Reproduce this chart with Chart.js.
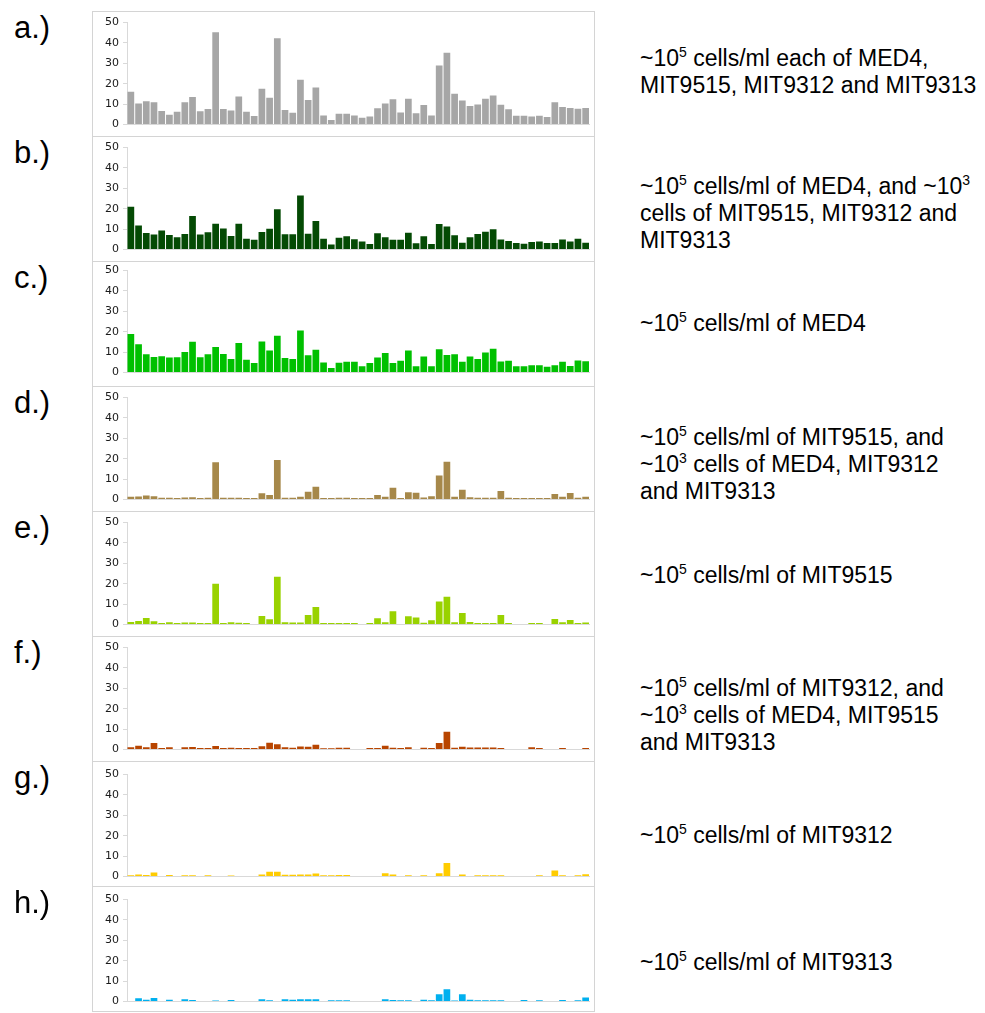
<!DOCTYPE html>
<html>
<head>
<meta charset="utf-8">
<script src="https://cdn.jsdelivr.net/npm/chart.js@4.4.0/dist/chart.umd.min.js"></script>
<style>
  html, body { margin:0; padding:0; background:#fff; }
  body { width:985px; height:1013px; position:relative; overflow:hidden; font-family:"Liberation Sans", Arial, sans-serif; color:#000; }
  .lbl { position:absolute; left:14px; font-size:31px; line-height:31px; white-space:nowrap; }
  .desc { position:absolute; left:640px; font-size:23px; line-height:27px; white-space:nowrap; }
  .sup { font-size:14px; line-height:0; position:relative; top:-9px; }
  .frame { position:absolute; left:92px; width:501px; border:1px solid #d4d4d4; box-sizing:content-box; }
  canvas.c { position:absolute; }
</style>
</head>
<body>
<script>
// ---- data ----
const samples = ["S1","S2","S3","S4","S5","S6","S7","S8","S9","S10","S11","S12","S13","S14","S15","S16","S17","S18","S19","S20","S21","S22","S23","S24","S25","S26","S27","S28","S29","S30","S31","S32","S33","S34","S35","S36","S37","S38","S39","S40","S41","S42","S43","S44","S45","S46","S47","S48","S49","S50","S51","S52","S53","S54","S55","S56","S57","S58","S59","S60"];
const yTicks = [0, 10, 20, 30, 40, 50];

const mixAll = [16,10.3,11.4,10.9,6.6,4.7,6.2,10.9,13.4,6.5, 7.6,45.3,7.6,6.8,13.7,6.2,4.1,17.5,13.1,42.3, 7.1,5.7,21.9,12,18.1,4.4,2.2,5.2,5.2,4.4, 3.3,3.9,7.9,10.3,12.3,5.8,12.6,5.5,9.5,4.4, 28.9,35.2,15,11.7,9,9.8,12.6,14.2,9.6,7.4, 4.3,4.3,3.9,4.3,3.6,10.9,8.5,8,7.7,8];
const med4Mix = [21,11.8,8,7.3,9.3,7.1,6,7.6,16.4,7.3, 8.4,12.6,10.3,6.6,12.6,5.2,4.7,8.5,10.1,19.7, 7.4,7.4,26.5,7.7,14,5.2,2.4,5.7,6.5,5, 3.9,2.7,7.9,6,4.7,4.7,8.2,3,6.5,2.7, 12.5,11.2,6.9,3.3,6,7.6,8.7,9.9,4.9,4.1, 3.2,2.8,3.6,3.9,3.2,3.2,4.9,3.9,5.2,3.3];
const med4Only = [18.8,13.8,8.9,7.6,7.9,7.3,7.4,10,15,7.4, 8.9,12.5,9,6.6,14.4,6.2,4.6,15.2,10.8,18, 7.1,6.6,20.6,8.4,11.1,4.9,2.1,4.7,5.2,5.2, 3,4.6,7.3,9.5,4.6,5.7,10.8,3,7.8,3, 11.4,8.5,8.9,5.2,7.8,6.6,9.8,11.6,5.4,5.7, 3,3,3.5,3.5,2.8,3.5,5.2,3.2,5.9,5.5];
const mit9515Mix = [1.3,1.4,1.9,1.6,0.8,0.8,0.7,0.9,1.1,0.7, 0.8,18.3,0.8,0.8,0.8,0.7,0.7,3.0,2.1,19.4, 0.8,0.8,1.3,3.8,6.2,0.7,0.7,0.8,0.8,0.7, 0.7,0.7,2.2,1.3,5.7,0.7,3.5,3.3,0.9,1.6, 11.7,18.5,1.3,4.7,1.1,0.8,0.8,0.8,4.1,0.8, 0.7,0.7,0.7,0.7,0.7,2.7,1.3,3.2,0.8,1.3];
const mit9515Only = [1.2,1.7,3.2,1.5,0.7,1.0,0.7,0.9,0.9,0.7, 0.7,20,0.7,1.0,0.8,0.7,null,4.1,2.5,23.4, 1.0,0.9,0.9,4.6,8.6,0.7,0.7,0.7,0.7,0.7, null,0.7,3.0,1.1,6.5,null,4,3.4,0.8,2, 11.2,13.6,1.0,5.6,1.2,0.7,0.7,0.7,4.6,0.7, null,null,0.7,0.7,null,2.6,1.1,2.1,0.7,0.9];
const mit9312Mix = [1.0,1.8,1.1,3.2,0.7,1.0,null,1.1,1.2,0.7, 0.7,1.7,0.7,0.8,0.7,0.7,0.7,1.6,3.3,2.5, 1.1,0.8,1.4,1.3,2.3,0.6,0.6,0.8,0.8,null, null,0.7,0.7,1.8,0.8,0.7,1.0,null,0.8,0.7, 3.1,8.7,0.8,1.3,0.9,0.9,0.9,0.9,0.7,null, null,null,1.1,0.7,null,null,0.7,null,null,0.7];
const mit9312Only = [0.6,0.9,0.7,1.9,null,0.7,null,0.6,0.6,null, 0.6,null,null,0.5,null,null,null,0.9,2.3,2.3, 0.8,0.8,0.9,0.9,1.4,0.6,0.6,0.7,0.7,null, null,null,null,1.5,0.9,null,0.6,null,0.6,null, 1.6,6.6,null,0.9,null,0.6,0.6,0.6,0.6,null, null,null,null,0.6,null,2.9,0.6,null,0.6,1.0];
const mit9313Only = [null,1.6,0.8,1.7,null,0.8,null,1.0,0.7,null, null,0.5,null,0.7,null,null,null,1.1,0.6,null, 1.0,0.8,1.1,1.1,1.1,null,0.6,0.6,0.6,null, null,null,null,1.1,0.7,0.6,0.6,null,0.8,0.6, 3.5,6.0,0.5,3.5,0.8,0.6,0.6,0.6,0.6,null, null,0.7,null,0.6,null,null,0.7,null,0.6,1.9];

const panelLetters = ["a.)","b.)","c.)","d.)","e.)","f.)","g.)","h.)"];
const panelSeries = [mixAll, med4Mix, med4Only, mit9515Mix, mit9515Only, mit9312Mix, mit9312Only, mit9313Only];
const panelText = [
  ["~10<span class='sup'>5</span> cells/ml each of MED4,", "MIT9515, MIT9312 and MIT9313"],
  ["~10<span class='sup'>5</span> cells/ml of MED4, and ~10<span class='sup'>3</span>", "cells of MIT9515, MIT9312 and", "MIT9313"],
  ["~10<span class='sup'>5</span> cells/ml of MED4"],
  ["~10<span class='sup'>5</span> cells/ml of MIT9515, and", "~10<span class='sup'>3</span> cells of MED4, MIT9312", "and MIT9313"],
  ["~10<span class='sup'>5</span> cells/ml of MIT9515"],
  ["~10<span class='sup'>5</span> cells/ml of MIT9312, and", "~10<span class='sup'>3</span> cells of MED4, MIT9515", "and MIT9313"],
  ["~10<span class='sup'>5</span> cells/ml of MIT9312"],
  ["~10<span class='sup'>5</span> cells/ml of MIT9313"]
];

// ---- styles / layout (not data) ----
const fills   = ["#a6a6a6","#044a04","#00c000","#a6884a","#99d200","#b84500","#ffcc00","#00b0ef"];
const frameTops = [11, 136, 261, 386, 511, 636, 761, 886];
const chartShift = [0, 0, -2, 0, 0, 0, 1.5, 2];
const descTops = [44.5, 172.5, 310, 423.5, 562, 674.5, 822, 949];

panelLetters.forEach((L, i) => {
  const top = frameTops[i];
  const fr = document.createElement('div');
  fr.className = 'frame';
  fr.style.top = top + 'px';
  fr.style.height = '124px';
  document.body.appendChild(fr);

  const lb = document.createElement('div');
  lb.className = 'lbl';
  lb.style.top = (top + 1) + 'px';
  lb.textContent = L;
  document.body.appendChild(lb);

  const ds = document.createElement('div');
  ds.className = 'desc';
  ds.style.top = descTops[i] + 'px';
  ds.innerHTML = panelText[i].join('<br>');
  document.body.appendChild(ds);

  const cv = document.createElement('canvas');
  cv.className = 'c';
  cv.width = 500; cv.height = 123;
  cv.style.left = '93px';
  cv.style.top = (top + 1 + chartShift[i]) + 'px';
  cv.style.width = '500px'; cv.style.height = '123px';
  document.body.appendChild(cv);

  new Chart(cv.getContext('2d'), {
    type: 'bar',
    data: {
      labels: samples,
      datasets: [{
        data: panelSeries[i],
        backgroundColor: fills[i],
        borderWidth: 0,
        barPercentage: 0.87,
        categoryPercentage: 1.0
      }]
    },
    options: {
      responsive: false,
      animation: false,
      devicePixelRatio: 1,
      layout: { padding: { top: 9, bottom: 9, left: 0, right: 3.5 } },
      plugins: { legend: { display: false }, tooltip: { enabled: false } },
      scales: {
        x: {
          display: true,
          ticks: { display: false },
          grid: { display: false, drawTicks: false },
          border: { display: true, color: '#d9d9d9', width: 1 }
        },
        y: {
          min: 0, max: 50,
          afterBuildTicks: (s) => { s.ticks = yTicks.map(v => ({ value: v })); },
          ticks: { font: { family: 'DejaVu Sans', size: 11 }, color: '#1a1a1a', padding: 4 },
          grid: { drawOnChartArea: false, tickLength: 4, color: '#d9d9d9' },
          border: { display: true, color: '#d9d9d9', width: 1 },
          afterFit: (s) => { s.width = 34; }
        }
      }
    }
  });
});
</script>
</body>
</html>
